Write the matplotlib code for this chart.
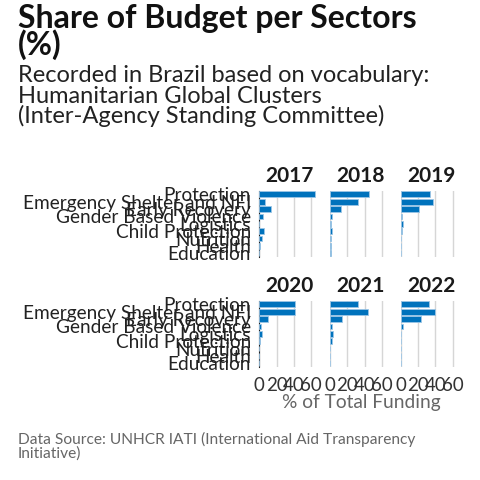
import numpy as np
import matplotlib
matplotlib.use('Agg')
import matplotlib.pyplot as plt

plt.rcParams['font.family'] = ['Lato', 'DejaVu Sans']

# Dados
categorias = ['Protection', 'Emergency Shelter and NFI', 'Early Recovery',
              'Gender Based Violence', 'Logistics', 'Child Protection',
              'Nutrition', 'Health', 'Education']
anos = ['2017', '2018', '2019', '2020', '2021', '2022']
v2017 = [64.2, 6.5, 13.8, 4.2, 0.0, 5.0, 3.0, 0.4, 0.0]
v2018 = [45.0, 31.9, 13.1, 2.3, 0.8, 1.9, 1.2, 1.2, 0.8]
v2019 = [34.2, 36.9, 21.2, 1.5, 2.7, 1.5, 0.0, 0.0, 0.0]
v2020 = [41.5, 41.5, 9.6, 2.3, 2.7, 1.2, 0.0, 0.0, 0.0]
v2021 = [31.9, 44.2, 14.2, 1.9, 3.5, 1.9, 0.0, 0.0, 0.0]
v2022 = [32.3, 39.6, 23.8, 2.7, 0.0, 0.0, 0.0, 0.0, 0.0]
valores = [v2017, v2018, v2019, v2020, v2021, v2022]
ticks_x = [0, 20, 40, 60]

W, H = 480, 480
fig = plt.figure(figsize=(4.8, 4.8), dpi=100)

azul = '#0072BC'
px_unit = 17.3 / 20
xmax = 70
col_x = [259.3, 330.0, 400.7]
row_top = [190.6, 300.6]
row_h = 9 * 7.375

y = np.arange(len(categorias))
for i, (ano, vals) in enumerate(zip(anos, valores)):
    r, c = divmod(i, 3)
    left = col_x[c] / W
    bottom = 1 - (row_top[r] + row_h) / H
    ax = fig.add_axes([left, bottom, xmax * px_unit / W, row_h / H])
    ax.barh(y, vals, height=0.78, color=azul, edgecolor='#9cc6e6', linewidth=0.6, zorder=3)
    ax.set_xlim(0, xmax)
    ax.set_ylim(len(categorias) - 0.5, -0.5)
    ax.set_xticks(ticks_x)
    for t in ticks_x:
        ax.axvline(t, color='#d6d6d6', linewidth=1, zorder=1)
    for s in ax.spines.values():
        s.set_visible(False)
    if c == 0:
        ax.spines['left'].set_visible(True)
        ax.spines['left'].set_color('#222222')
        ax.set_yticks(y)
        ax.set_yticklabels(categorias, fontsize=13.7, color='#222222')
    else:
        ax.set_yticks([])
    if r == 1:
        ax.set_xticklabels([str(t) for t in ticks_x], fontsize=13.5, color='#333333')
    else:
        ax.set_xticklabels([])
    ax.tick_params(length=0, pad=7)
    ax.tick_params(axis='y', pad=6)
    ax.text(0.5, 1 + 8.6 / row_h, ano, transform=ax.transAxes, ha='center',
            va='baseline', fontsize=15, fontweight='bold', color='#1a1a1a')

def texto(x, yb, s, **kw):
    fig.text(x / W, 1 - yb / H, s, va='baseline', **kw)

texto(18, 28, 'Share of Budget per Sectors', fontsize=23, fontweight='bold', color='#111111')
texto(18, 55, '(%)', fontsize=23, fontweight='bold', color='#111111')
texto(18, 82, 'Recorded in Brazil based on vocabulary:', fontsize=17, color='#222222')
texto(18, 103, 'Humanitarian Global Clusters', fontsize=17, color='#222222')
texto(18, 123, '(Inter-Agency Standing Committee)', fontsize=17, color='#222222')
texto(361, 408, '% of Total Funding', fontsize=13.8, color='#666666', ha='center')
texto(18, 444, 'Data Source: UNHCR IATI (International Aid Transparency', fontsize=11.2, color='#666666')
texto(18, 458, 'Initiative)', fontsize=11.2, color='#666666')

fig.savefig('out.png', dpi=100)
